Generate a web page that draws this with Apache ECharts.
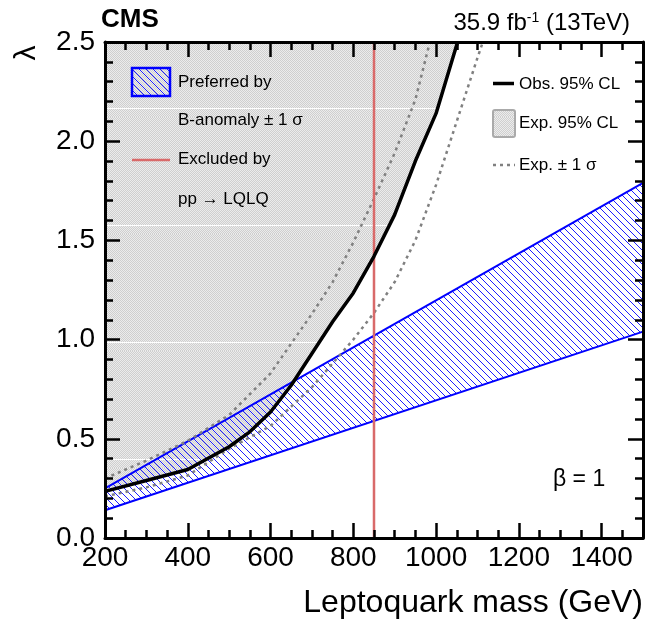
<!DOCTYPE html>
<html>
<head>
<meta charset="utf-8">
<script src="https://cdn.jsdelivr.net/npm/echarts@6/dist/echarts.min.js"></script>
<style>
  html, body { margin: 0; padding: 0; background: #fff; }
  #chart { width: 658px; height: 627px; }
</style>
</head>
<body>
<div id="chart"></div>
<script>
// observed 95% CL limit
const obsMass   = [200, 300, 400, 500, 550, 600, 650, 700, 750, 800, 850, 900, 950, 1000, 1052];
const obsLambda = [0.235, 0.29, 0.345, 0.46, 0.535, 0.635, 0.77, 0.93, 1.09, 1.235, 1.42, 1.63, 1.9, 2.14, 2.5];

// expected +-1 sigma (left / right dotted)
const expHiMass   = [200, 300, 400, 500, 600, 650, 700, 750, 800, 850, 900, 950, 985];
const expHiLambda = [0.30, 0.39, 0.49, 0.62, 0.83, 0.98, 1.13, 1.29, 1.49, 1.71, 1.94, 2.21, 2.5];
const expLoMass   = [200, 300, 400, 500, 600, 700, 800, 850, 900, 950, 1000, 1050, 1100, 1113];
const expLoLambda = [0.21, 0.255, 0.315, 0.45, 0.565, 0.76, 1.0, 1.135, 1.29, 1.5, 1.78, 2.1, 2.42, 2.5];

// B-anomaly preferred band
const bandMass = [200, 1500];
const bandLow  = [0.14, 1.04];
const bandHigh = [0.25, 1.79];

// pp -> LQLQ exclusion
const excludedMass = 850;

const FONT = 'Liberation Sans';

function grayTile() {
  const c = document.createElement('canvas');
  c.width = 2; c.height = 117;
  const g = c.getContext('2d');
  for (let y = 0; y < 117; y++) {
    for (let x = 0; x < 2; x++) {
      g.fillStyle = y === 108 ? '#ffffff' : ((x + y) % 2 ? '#ececec' : '#cfcfcf');
      g.fillRect(x, y, 1, 1);
    }
  }
  return c;
}

function hatchTile() {
  const c = document.createElement('canvas');
  c.width = 7; c.height = 7;
  const g = c.getContext('2d');
  g.fillStyle = '#1e1eff';
  for (let i = 0; i < 7; i++) g.fillRect(i, i, 1, 1);
  return c;
}

const grayFill = { image: grayTile(), repeat: 'repeat' };
const hatchFill = { image: hatchTile(), repeat: 'repeat' };

const zip = (xs, ys) => xs.map((x, i) => [x, ys[i]]);

const chart = echarts.init(document.getElementById('chart'));

// axes drawn above the series so the frame stays solid black
const xBase = { type: 'value', min: 200, max: 1500, gridIndex: 0, z: 10, splitLine: { show: false } };
const yBase = { type: 'value', min: 0, max: 2.5, interval: 0.5, z: 10, splitLine: { show: false } };
const majorTick = { show: true, inside: true, length: 15, lineStyle: { color: '#000', width: 2.5 } };
const minorTickStyle = { show: true, inside: true, length: 8, lineStyle: { color: '#000', width: 2.5 } };
const frameLine = { show: true, lineStyle: { color: '#000', width: 3 } };

chart.setOption({
  animation: false,
  backgroundColor: '#fff',
  grid: { left: 105, right: 15, top: 42, bottom: 89 },
  xAxis: [
    Object.assign({}, xBase, {
      position: 'bottom', interval: 200,
      axisLine: frameLine,
      axisTick: majorTick,
      axisLabel: {
        show: true, margin: 6, color: '#000', fontSize: 28, fontFamily: FONT,
        formatter: v => (v > 1400 ? '' : String(v))
      }
    }),
    Object.assign({}, xBase, {
      position: 'bottom', interval: 50,
      axisLine: { show: false }, axisTick: minorTickStyle, axisLabel: { show: false }
    }),
    Object.assign({}, xBase, {
      position: 'top', interval: 200,
      axisLine: frameLine, axisTick: majorTick, axisLabel: { show: false }
    }),
    Object.assign({}, xBase, {
      position: 'top', interval: 50,
      axisLine: { show: false }, axisTick: minorTickStyle, axisLabel: { show: false }
    })
  ],
  yAxis: [
    Object.assign({}, yBase, {
      position: 'left',
      axisLine: frameLine,
      axisTick: majorTick,
      minorTick: { show: true, splitNumber: 5, length: 8, lineStyle: { color: '#000', width: 2.5 } },
      axisLabel: {
        show: true, margin: 10, color: '#000', fontSize: 28, fontFamily: FONT,
        formatter: v => v.toFixed(1)
      }
    }),
    Object.assign({}, yBase, {
      position: 'right',
      axisLine: frameLine,
      axisTick: majorTick,
      minorTick: { show: true, splitNumber: 5, length: 8, lineStyle: { color: '#000', width: 2.5 } },
      axisLabel: { show: false }
    })
  ],
  series: [
    {
      // excluded region (left of observed limit)
      name: 'Exp. 95% CL', type: 'line', z: 1,
      data: zip(obsMass, obsLambda),
      showSymbol: false,
      lineStyle: { width: 0, opacity: 0 },
      areaStyle: { origin: 'end', color: grayFill, opacity: 1 }
    },
    {
      name: 'B-anomaly band', type: 'custom', z: 2, clip: true,
      data: bandMass.map((m, i) => [m, bandLow[i], bandHigh[i]]),
      encode: { x: 0, y: [1, 2] },
      renderItem: (params, api) => {
        if (params.dataIndex !== 0) return null;
        const top = bandMass.map((m, i) => api.coord([m, bandHigh[i]]));
        const bot = bandMass.map((m, i) => api.coord([m, bandLow[i]])).reverse();
        return {
          type: 'polygon',
          shape: { points: top.concat(bot) },
          style: { fill: hatchFill, stroke: null }
        };
      }
    },
    {
      type: 'line', z: 3, data: zip(bandMass, bandHigh), showSymbol: false,
      lineStyle: { color: '#0000ff', width: 2 }
    },
    {
      type: 'line', z: 3, data: zip(bandMass, bandLow), showSymbol: false,
      lineStyle: { color: '#0000ff', width: 2 }
    },
    {
      type: 'line', z: 4, data: zip(expHiMass, expHiLambda), showSymbol: false,
      lineStyle: { color: '#808080', width: 2.5, type: [3, 4] }
    },
    {
      type: 'line', z: 4, data: zip(expLoMass, expLoLambda), showSymbol: false,
      lineStyle: { color: '#808080', width: 2.5, type: [3, 4] }
    },
    {
      type: 'line', z: 5, data: [[excludedMass, 0], [excludedMass, 2.5]], showSymbol: false,
      lineStyle: { color: '#d96a6a', width: 2.5 }
    },
    {
      name: 'Obs. 95% CL', type: 'line', z: 6,
      data: zip(obsMass, obsLambda), showSymbol: false,
      lineStyle: { color: '#000', width: 3.5 }
    }
  ],
  graphic: [
    { type: 'text', x: 101, y: 20, style: { text: 'CMS', fontSize: 26, fontWeight: 'bold', fontFamily: FONT, fill: '#000', align: 'left', verticalAlign: 'middle' } },
    {
      type: 'text', x: 630, y: 23,
      style: {
        text: '{a|35.9 fb}{s|-1}{a| (13TeV)}', align: 'right', verticalAlign: 'middle', fill: '#000',
        rich: {
          a: { fontSize: 24, fontFamily: FONT, fill: '#000' },
          s: { fontSize: 14, fontFamily: FONT, fill: '#000', verticalAlign: 'top' }
        }
      }
    },
    { type: 'text', x: 27, y: 53, rotation: Math.PI / 2, style: { text: 'λ', fontSize: 30, fontFamily: FONT, fill: '#000', align: 'center', verticalAlign: 'middle' } },
    { type: 'text', x: 643, y: 603, style: { text: 'Leptoquark mass (GeV)', fontSize: 32, fontFamily: FONT, fill: '#000', align: 'right', verticalAlign: 'middle' } },
    { type: 'text', x: 553, y: 480, style: { text: 'β = 1', fontSize: 23, fontFamily: FONT, fill: '#000', align: 'left', verticalAlign: 'middle' } },

    // left legend
    { type: 'rect', shape: { x: 132, y: 68, width: 38, height: 28 }, style: { fill: hatchFill, stroke: '#0000ff', lineWidth: 2.5 }, z: 10 },
    { type: 'text', x: 178, y: 82.5, style: { text: 'Preferred by', fontSize: 17, fontFamily: FONT, fill: '#000', verticalAlign: 'middle' }, z: 10 },
    { type: 'text', x: 178, y: 120.5, style: { text: 'B-anomaly ± 1 σ', fontSize: 17, fontFamily: FONT, fill: '#000', verticalAlign: 'middle' }, z: 10 },
    { type: 'line', shape: { x1: 132, y1: 160, x2: 170, y2: 160 }, style: { stroke: '#d96a6a', lineWidth: 2.5 }, z: 10 },
    { type: 'text', x: 178, y: 159.5, style: { text: 'Excluded by', fontSize: 17, fontFamily: FONT, fill: '#000', verticalAlign: 'middle' }, z: 10 },
    { type: 'text', x: 178, y: 199, style: { text: 'pp → LQLQ', fontSize: 17, fontFamily: FONT, fill: '#000', verticalAlign: 'middle' }, z: 10 },

    // right legend
    { type: 'line', shape: { x1: 493, y1: 83.5, x2: 514, y2: 83.5 }, style: { stroke: '#000', lineWidth: 3.5 }, z: 10 },
    { type: 'text', x: 519, y: 84, style: { text: 'Obs. 95% CL', fontSize: 17, fontFamily: FONT, fill: '#000', verticalAlign: 'middle' }, z: 10 },
    { type: 'rect', shape: { x: 493, y: 110, width: 22, height: 27, r: 2 }, style: { fill: grayFill, stroke: '#aaaaaa', lineWidth: 2 }, z: 10 },
    { type: 'text', x: 519, y: 123.5, style: { text: 'Exp. 95% CL', fontSize: 17, fontFamily: FONT, fill: '#000', verticalAlign: 'middle' }, z: 10 },
    { type: 'line', shape: { x1: 493, y1: 165, x2: 515, y2: 165 }, style: { stroke: '#808080', lineWidth: 2.5, lineDash: [3, 4] }, z: 10 },
    { type: 'text', x: 519, y: 165, style: { text: 'Exp. ± 1 σ', fontSize: 17, fontFamily: FONT, fill: '#000', verticalAlign: 'middle' }, z: 10 }
  ]
});
</script>
</body>
</html>
